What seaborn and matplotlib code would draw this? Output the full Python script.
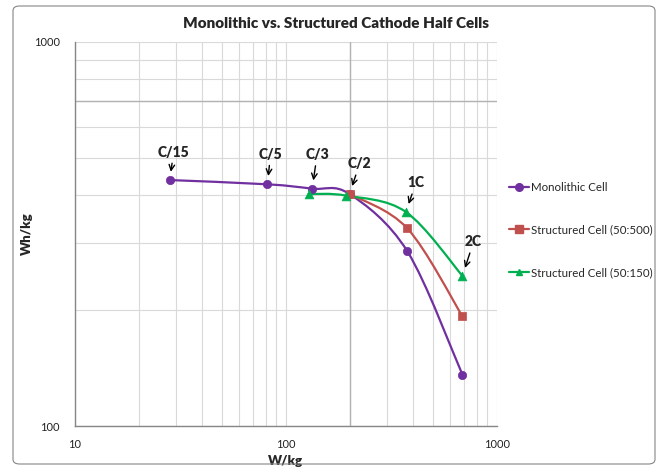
import matplotlib
matplotlib.use("Agg")
import matplotlib.pyplot as plt
import matplotlib.ticker as mticker
from matplotlib.lines import Line2D
from matplotlib.path import Path
from matplotlib.patches import PathPatch, FancyBboxPatch
import numpy as np
import pandas as pd
import seaborn as sns

# values (W/kg, Wh/kg)
rate_labels = ["C/15", "C/5", "C/3", "C/2", "1C", "2C"]

mono_power = [28.1, 81.7, 133, 200, 376, 686]
mono_energy = [437, 426, 415, 402, 285, 136]

s500_power = [200, 376, 686]
s500_energy = [402, 327, 193]

s150_power = [129, 193, 370, 686]
s150_energy = [402, 398, 361, 246]

series_names = ["Monolithic Cell", "Structured Cell (50:500)", "Structured Cell (50:150)"]
colors = ["#7030A0", "#C0504D", "#00B050"]
markers = ["o", "s", "^"]

rows = []
for name, px, ey in zip(series_names,
                        [mono_power, s500_power, s150_power],
                        [mono_energy, s500_energy, s150_energy]):
    for p, e in zip(px, ey):
        rows.append({"series": name, "power": p, "energy": e})
df = pd.DataFrame(rows)


def smooth_path(xs, ys):
    # Excel-style smoothed line: cubic Bezier segments in log-log space
    lx = np.log10(np.asarray(xs, float))
    ly = np.log10(np.asarray(ys, float))
    pts = np.column_stack([lx, ly])
    n = len(pts)
    verts = [pts[0]]
    codes = [Path.MOVETO]
    for i in range(n - 1):
        p0 = pts[max(i - 1, 0)]
        p1 = pts[i]
        p2 = pts[i + 1]
        p3 = pts[min(i + 2, n - 1)]
        c1 = p1 + (p2 - p0) / 6.0
        c2 = p2 - (p3 - p1) / 6.0
        verts += [c1, c2, p2]
        codes += [Path.CURVE4] * 3
    verts = 10 ** np.array(verts)
    return Path(verts, codes)


sns.set_theme(style="white")
plt.rcParams["font.family"] = ["Lato", "DejaVu Sans"]

fig = plt.figure(figsize=(6.61, 4.73), dpi=100)
ax = fig.add_axes([75 / 661, 1 - 426 / 473, 422 / 661, 384 / 473])

ax.set_xscale("log")
ax.set_yscale("log")
ax.set_xlim(10, 1000)
ax.set_ylim(100, 1000)

# gridlines
ax.xaxis.set_minor_locator(mticker.LogLocator(base=10, subs=np.arange(2, 10)))
ax.yaxis.set_minor_locator(mticker.LogLocator(base=10, subs=np.arange(2, 10)))
ax.grid(True, which="both", color="#d9d9d9", lw=0.8)
ax.axvline(200, color="#b3b3b3", lw=1.0, zorder=0.6)
ax.axhline(700, color="#b3b3b3", lw=1.0, zorder=0.6)
ax.set_axisbelow(True)

for name, px, ey, c in zip(series_names,
                           [mono_power, s500_power, s150_power],
                           [mono_energy, s500_energy, s150_energy], colors):
    ax.add_patch(PathPatch(smooth_path(px, ey), fill=False, edgecolor=c,
                           lw=1.6, zorder=3, capstyle="round"))

for name, c, m in zip(series_names, colors, markers):
    sub = df[df["series"] == name]
    sns.scatterplot(data=sub, x="power", y="energy", ax=ax, color=c, marker=m,
                    s=36 if m != "^" else 40, edgecolor=c, linewidth=0.5,
                    zorder=4, legend=False)

# rate annotations (label, x, y of the point, text offset px)
ann = [
    ("C/15", mono_power[0], mono_energy[0], (4, 28)),
    ("C/5", mono_power[1], mono_energy[1], (3, 30)),
    ("C/3", mono_power[2], mono_energy[2], (5, 34)),
    ("C/2", mono_power[3], mono_energy[3], (10, 30)),
    ("1C", s150_power[2], s150_energy[2], (10, 29)),
    ("2C", s150_power[3], s150_energy[3], (11, 34)),
]
for lab, x, y, (dx, dy) in ann:
    ax.annotate(lab, xy=(x, y), xytext=(dx, dy), textcoords="offset pixels",
                ha="center", va="center", fontsize=10, fontweight="heavy",
                arrowprops=dict(arrowstyle="->", color="black", lw=1.0,
                                shrinkA=1, shrinkB=6), zorder=5)

ax.xaxis.set_major_formatter(mticker.FuncFormatter(lambda v, p: f"{v:g}"))
ax.yaxis.set_major_formatter(mticker.FuncFormatter(lambda v, p: f"{v:g}"))
ax.xaxis.set_minor_formatter(mticker.NullFormatter())
ax.yaxis.set_minor_formatter(mticker.NullFormatter())
ax.tick_params(axis="both", which="both", length=0, labelsize=8, colors="#222222")
ax.tick_params(axis="x", pad=9)
ax.tick_params(axis="y", pad=11)

for side in ["top", "right"]:
    ax.spines[side].set_visible(False)
for side in ["left", "bottom"]:
    ax.spines[side].set_color("#868686")
    ax.spines[side].set_linewidth(1.0)

ax.set_xlabel("W/kg", fontsize=9.5, fontweight="heavy")
ax.set_ylabel("Wh/kg", fontsize=9.5, fontweight="heavy")
ax.xaxis.set_label_coords(0.5, -(455 - 426) / 384)
ax.yaxis.set_label_coords(-(75 - 33) / 422, 0.5)
fig.text(336 / 661, 1 - 23 / 473, "Monolithic vs. Structured Cathode Half Cells",
         ha="center", va="center", fontsize=11, fontweight="heavy")

handles = [Line2D([0], [0], color=c, marker=m, lw=1.6, markersize=5.5 if m != "^" else 5,
                  markeredgecolor=c) for c, m in zip(colors, markers)]
fig.legend(handles, series_names, loc="upper left", bbox_to_anchor=(504 / 661, 1 - 177 / 473),
           frameon=False, fontsize=8.3, handlelength=1.8, handletextpad=0.15,
           labelspacing=2.75, borderaxespad=0)

fig.patches.append(FancyBboxPatch((13 / 661, 9 / 473), 642 / 661, 458 / 473,
                                  boxstyle="round,pad=0,rounding_size=0.01",
                                  transform=fig.transFigure, fill=False,
                                  edgecolor="#868686", lw=0.8))

fig.savefig("out.png", dpi=100)
